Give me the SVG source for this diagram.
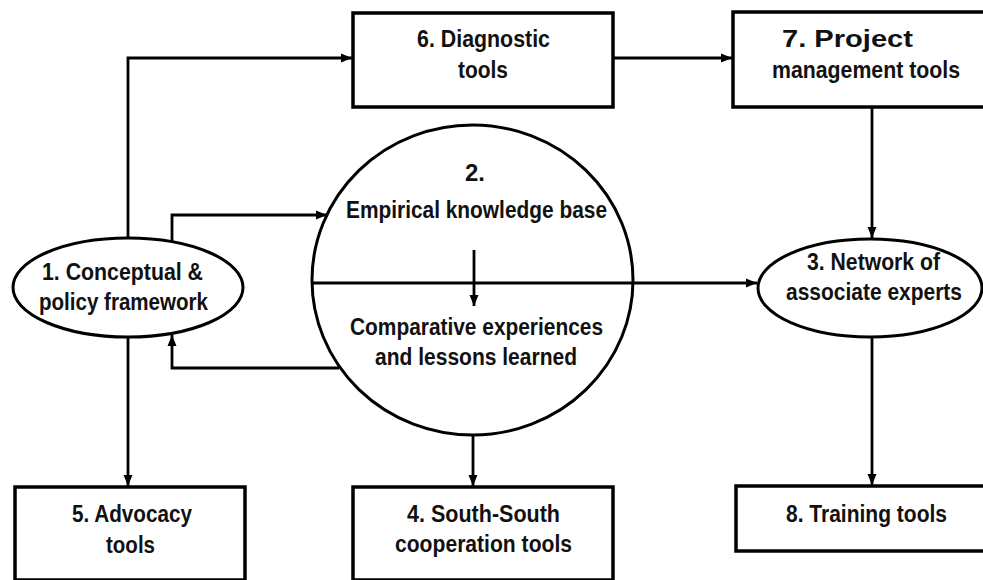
<svg xmlns="http://www.w3.org/2000/svg" width="983" height="580" viewBox="0 0 983 580">
<style>
.box{fill:#fff;stroke:#000;stroke-width:3.5}
.shape{fill:#fff;stroke:#000;stroke-width:3}
.con{fill:none;stroke:#000;stroke-width:2.8}
.arr{marker-end:url(#ah)}
text{font-family:"Liberation Sans",Arial,sans-serif;font-weight:bold;font-size:23px;fill:#111;text-anchor:middle}
</style>
<defs>
<marker id="ah" markerUnits="userSpaceOnUse" markerWidth="12" markerHeight="10" refX="11" refY="5" orient="auto">
<path d="M0,0.5 L11,5 L0,9.5 z" fill="#000"/>
</marker>
</defs>
<rect width="983" height="580" fill="#fff"/>
<g id="node6"><rect class="box" x="353" y="13" width="260" height="94"/>
<text x="483.5" y="47" textLength="133" lengthAdjust="spacingAndGlyphs">6. Diagnostic</text>
<text x="483" y="78" textLength="50" lengthAdjust="spacingAndGlyphs">tools</text></g>
<g id="node7"><rect class="box" x="733" y="12" width="270" height="95"/>
<text x="847.5" y="47" textLength="131" lengthAdjust="spacingAndGlyphs">7. Project</text>
<text x="866" y="78" textLength="188" lengthAdjust="spacingAndGlyphs">management tools</text></g>
<g id="node1"><ellipse class="shape" cx="128" cy="287.5" rx="115" ry="49.5"/>
<text x="122.5" y="280" textLength="161" lengthAdjust="spacingAndGlyphs">1. Conceptual &amp;</text>
<text x="123.5" y="310" textLength="169" lengthAdjust="spacingAndGlyphs">policy framework</text></g>
<g id="node2"><ellipse class="shape" cx="472.5" cy="280" rx="160.5" ry="155"/>
<text x="475" y="181" textLength="20" lengthAdjust="spacingAndGlyphs">2.</text>
<text x="476.5" y="218" textLength="261" lengthAdjust="spacingAndGlyphs">Empirical knowledge base</text>
<text x="476.5" y="335" textLength="253" lengthAdjust="spacingAndGlyphs">Comparative experiences</text>
<text x="476" y="365" textLength="202" lengthAdjust="spacingAndGlyphs">and lessons learned</text></g>
<g id="node3"><ellipse class="shape" cx="870" cy="288" rx="112" ry="49"/>
<text x="873.5" y="270" textLength="133" lengthAdjust="spacingAndGlyphs">3. Network of</text>
<text x="874" y="300" textLength="176" lengthAdjust="spacingAndGlyphs">associate experts</text></g>
<g id="node5"><rect class="box" x="15" y="487" width="230" height="93"/>
<text x="132" y="522" textLength="120" lengthAdjust="spacingAndGlyphs">5. Advocacy</text>
<text x="130.5" y="553" textLength="49" lengthAdjust="spacingAndGlyphs">tools</text></g>
<g id="node4"><rect class="box" x="353" y="487" width="260" height="93"/>
<text x="483.5" y="522" textLength="153" lengthAdjust="spacingAndGlyphs">4. South-South</text>
<text x="483.5" y="552" textLength="177" lengthAdjust="spacingAndGlyphs">cooperation tools</text></g>
<g id="node8"><rect class="box" x="736" y="486" width="270" height="65"/>
<text x="866.5" y="522" textLength="161" lengthAdjust="spacingAndGlyphs">8. Training tools</text></g>
<g id="connectors">
<path class="con arr" d="M128,238 V58 H352"/>
<path class="con arr" d="M613,58 H732"/>
<path class="con arr" d="M872,107 V238"/>
<path class="con arr" d="M172,241 V215 H327"/>
<path class="con arr" d="M339,368 H172 V335"/>
<path class="con arr" d="M313,283 H757"/>
<path class="con arr" d="M474,250 V306"/>
<path class="con arr" d="M128,337 V486"/>
<path class="con arr" d="M473,435 V486"/>
<path class="con arr" d="M872,337 V485"/>
</g>
</svg>
